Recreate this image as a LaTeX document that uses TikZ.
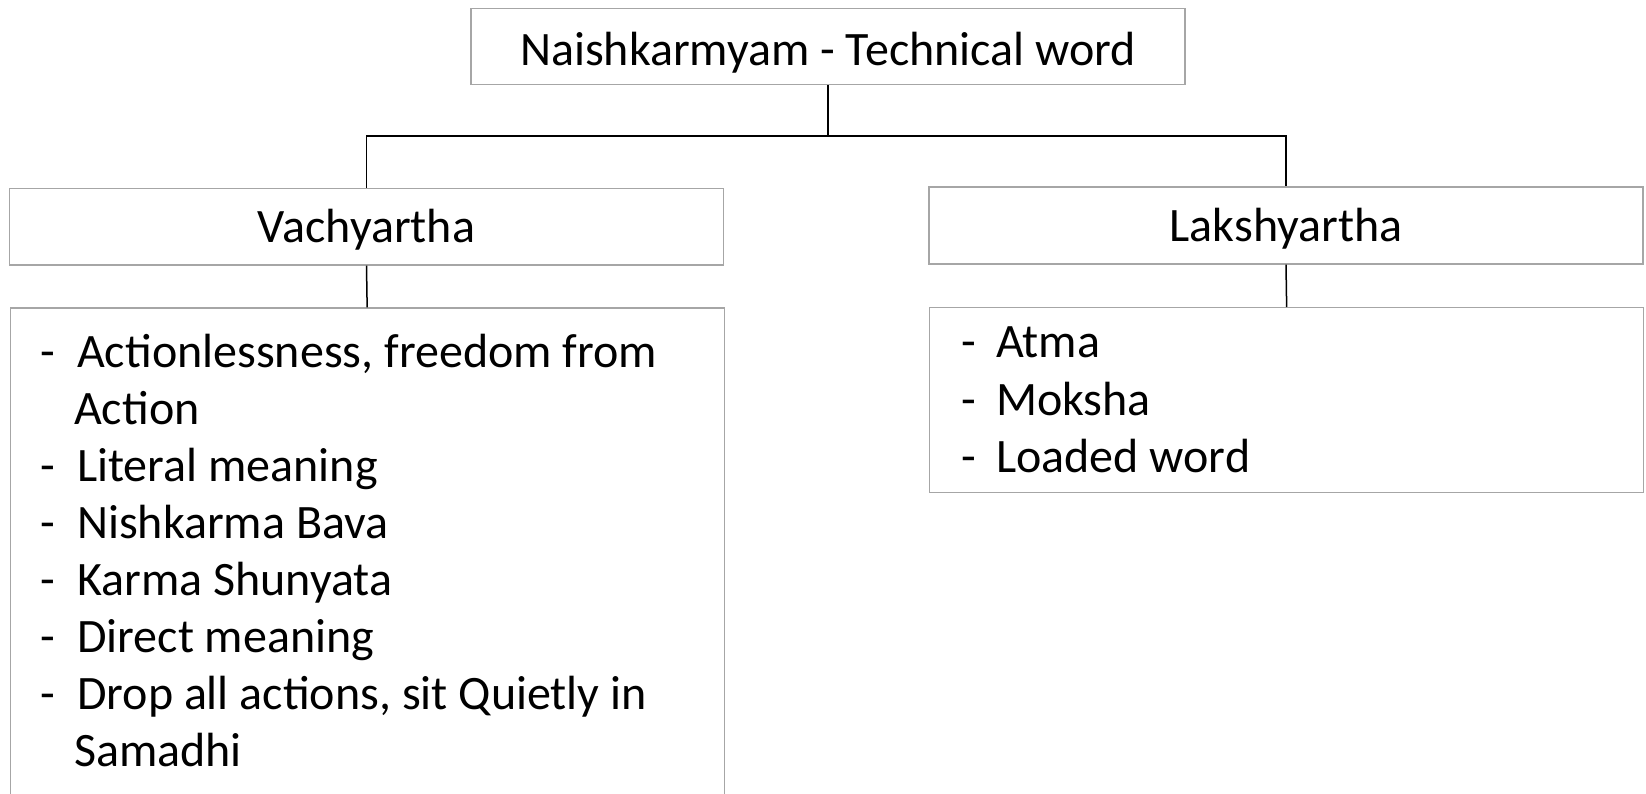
\documentclass[tikz,border=0pt]{standalone}
\usepackage{fontspec}
\setmainfont{Carlito}
\definecolor{boxgray}{HTML}{A6A6A6}
\begin{document}
\begin{tikzpicture}[x=1pt,y=-1pt,
  box/.style={draw=boxgray, line width=1.3pt, inner sep=0pt, minimum width=714pt},
  ttl/.style={box, font=\fontsize{48}{57}\selectfont},
  item/.style={anchor=base west, inner sep=0pt, font=\fontsize{48}{57}\selectfont},
  link/.style={draw=black, line width=1.5pt}]
\useasboundingbox (0,0) rectangle (1646,794);
\clip (0,0) rectangle (1646,794);
\node[ttl, text height=57.5pt, text depth=18.5pt, anchor=base] (top) at (828,66) {Naishkarmyam - Technical word};
\node[ttl, text height=54.5pt, text depth=22.3pt, anchor=base] (vach) at (366.5,242.7) {Vachyartha};
\node[ttl, text height=54.7pt, text depth=22.3pt, anchor=base] (laksh) at (1286,241.7) {Lakshyartha};
\node[box, minimum height=520pt, anchor=north west] (vlist) at (9.5,307.3) {};
\node[box, minimum height=185pt, anchor=north west] (llist) at (929,307) {};
\coordinate (yb) at (0,136);
\draw[link] (top.south) -- (top.south |- yb);
\draw[link] (vach.north) -- (vach.north |- yb) -- (laksh.north |- yb) -- (laksh.north);
\draw[link] (vach.south) -- (vlist.north);
\draw[link] (laksh.south) -- (llist.north);
% left list
\node[item] (d1) at (40,367.7) {-};
\node[item] (t1) at (77,367.7) {Actionlessness, freedom from};
\node[item] (t1b) at (74,424.7) {Action};
\node[item] (d2) at (40,481.7) {-};
\node[item] (t2) at (77,481.7) {Literal meaning};
\node[item] (d3) at (40,538.7) {-};
\node[item] (t3) at (77,538.7) {Nishkarma Bava};
\node[item] (d4) at (40,595.7) {-};
\node[item] (t4) at (77,595.7) {Karma Shunyata};
\node[item] (d5) at (40,652.7) {-};
\node[item] (t5) at (77,652.7) {Direct meaning};
\node[item] (d6) at (40,709.7) {-};
\node[item] (t6) at (77,709.7) {Drop all actions, sit Quietly in};
\node[item] (t6b) at (74,766.7) {Samadhi};
% right list
\node[item] (r1) at (961,357.7) {-};
\node[item] (s1) at (996,357.7) {Atma};
\node[item] (r2) at (961,415) {-};
\node[item] (s2) at (996,415) {Moksha};
\node[item] (r3) at (961,472.6) {-};
\node[item] (s3) at (996,472.6) {Loaded word};
\end{tikzpicture}
\end{document}
